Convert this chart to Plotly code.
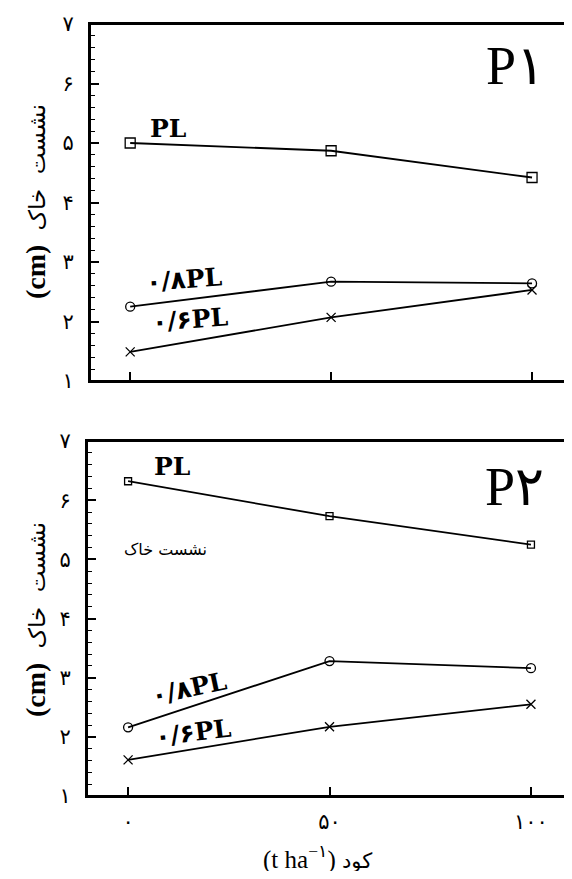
import plotly.graph_objects as go

# ---- data ----
manure = [0, 50, 100]
x_tick_alias = {"0": "۰", "50": "۵۰", "100": "۱۰۰"}
y_tick_alias = {"1": "۱", "2": "۲", "3": "۳", "4": "۴", "5": "۵", "6": "۶", "7": "۷"}

p1_pl = [5.0, 4.87, 4.42]
p1_08pl = [2.25, 2.67, 2.64]
p1_06pl = [1.49, 2.07, 2.53]

p2_pl = [6.32, 5.73, 5.25]
p2_08pl = [2.16, 3.28, 3.16]
p2_06pl = [1.61, 2.17, 2.55]

series_names = ["PL", "۰/۸PL", "۰/۶PL"]

# page body has an 8px margin: figure sized to fill the rest of the window
OFF = 8
W, H = 572 - OFF, 879 - 2 * OFF

def px(p):
    return (p - OFF) / W

def py(p):
    return 1 - (p - OFF) / H

fig = go.Figure()

def add_series(xa, ya, values, symbol, size, name):
    fig.add_trace(go.Scatter(
        x=manure, y=values, mode="lines+markers", name=name,
        xaxis=xa, yaxis=ya, showlegend=False,
        line=dict(color="black", width=1.8),
        marker=dict(symbol=symbol, size=size, color="black",
                    line=dict(color="black", width=1.3)),
    ))

add_series("x", "y", p1_pl, "square-open", 10, series_names[0])
add_series("x", "y", p1_08pl, "circle-open", 9, series_names[1])
add_series("x", "y", p1_06pl, "x-thin-open", 9, series_names[2])
add_series("x2", "y2", p2_pl, "square-open", 7, series_names[0])
add_series("x2", "y2", p2_08pl, "circle-open", 9, series_names[1])
add_series("x2", "y2", p2_06pl, "x-thin-open", 9, series_names[2])

tick_font = dict(family="DejaVu Sans", size=21, color="black")

def xaxis(domain, rng, anchor, labels):
    return dict(
        domain=domain, range=rng, anchor=anchor, automargin=False,
        showline=True, linewidth=2, linecolor="black", mirror=True,
        showgrid=False, zeroline=False,
        ticks="inside", ticklen=9, tickwidth=1.6, tickcolor="black",
        tickmode="linear", tick0=0, dtick=50, labelalias=x_tick_alias,
        showticklabels=labels, tickfont=tick_font,
        ticklabelstandoff=6,
    )

def yaxis(domain, anchor):
    return dict(
        domain=domain, range=[1, 7], anchor=anchor, automargin=False,
        showline=True, linewidth=2, linecolor="black", mirror=True,
        showgrid=False, zeroline=False,
        ticks="inside", ticklen=9, tickwidth=1.6, tickcolor="black",
        tickmode="linear", tick0=1, dtick=1, labelalias=y_tick_alias,
        tickfont=tick_font, ticklabelstandoff=10,
        minor=dict(ticks="inside", ticklen=5, tickwidth=1.2, tickcolor="black",
                   tickmode="linear", tick0=1, dtick=0.2, showgrid=False),
    )

fig.update_layout(
    width=W, height=H,
    margin=dict(l=0, r=0, t=0, b=0, autoexpand=False),
    paper_bgcolor="white", plot_bgcolor="white",
    xaxis=xaxis([px(90), px(567)], [-10, 108.7], "y", False),
    yaxis=yaxis([py(381), py(24)], "x"),
    xaxis2=xaxis([px(87), px(566)], [-10.2, 108.7], "y2", True),
    yaxis2=yaxis([py(796), py(441)], "x2"),
)

# panel frames
for xr, yr in (("x domain", "y domain"), ("x2 domain", "y2 domain")):
    fig.add_shape(type="rect", xref=xr, yref=yr, x0=0, x1=1, y0=0, y1=1,
                  line=dict(color="black", width=2), fillcolor="rgba(0,0,0,0)",
                  layer="above")

serif_b = dict(family="DejaVu Serif, DejaVu Sans", size=25, color="black")
serif_big = dict(family="Liberation Serif, DejaVu Sans", size=54, color="black")

def ann(xr, yr, x, y, text, font, angle=0):
    fig.add_annotation(xref=xr, yref=yr, x=x, y=y, text=text, showarrow=False,
                       font=font, textangle=angle, xanchor="center", yanchor="middle")

# top panel labels
ann("x", "y", 9.5, 5.25, "<b>PL</b>", serif_b)
ann("x", "y", 95.8, 6.29, "P۱", serif_big)
ann("x", "y", 13.5, 2.70, "<b>۰/۸PL</b>", serif_b, -4)
ann("x", "y", 15.0, 2.03, "<b>۰/۶PL</b>", serif_b, -4)

# bottom panel labels
ann("x2", "y2", 10.9, 6.57, "<b>PL</b>", serif_b)
ann("x2", "y2", 96, 6.22, "P۲", serif_big)
ann("x2", "y2", 9.2, 5.16, "نشست خاک", dict(family="DejaVu Sans", size=16, color="black"))
ann("x2", "y2", 15.0, 2.82, "<b>۰/۸PL</b>", serif_b, -12)
ann("x2", "y2", 16.2, 2.08, "<b>۰/۶PL</b>", serif_b, -7)

# axis titles
ytitle = ("<b>(cm)</b>\u00a0\u00a0<span style='font-family:DejaVu Sans;font-size:23px;"
          "font-weight:normal'>نشست\u00a0\u00a0خاک</span>")
title_font = dict(family="Liberation Serif, DejaVu Sans", size=28, color="black")
ann("paper", "paper", px(35), py(202), ytitle, title_font, -90)
ann("paper", "paper", px(35), py(620), ytitle, title_font, -90)
ann("paper", "paper", px(317), py(857),
    "(t\u00a0ha<sup>−۱</sup>) <span style='font-family:DejaVu Sans;font-size:21px'>کود</span>",
    dict(family="Liberation Serif, DejaVu Sans", size=25, color="black"))

fig.write_html("out.html")
